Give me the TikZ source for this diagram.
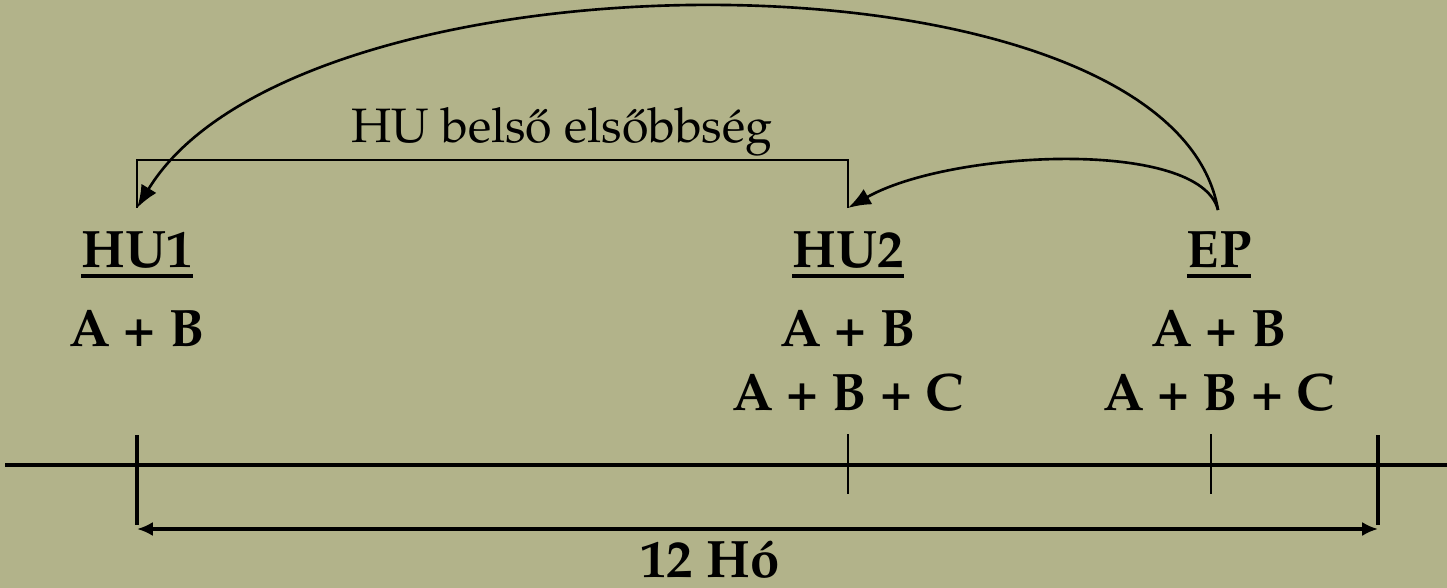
\documentclass[tikz,border=0pt]{standalone}
\usepackage[T1]{fontenc}
\renewcommand{\rmdefault}{ppl}
\usetikzlibrary{arrows.meta}
\definecolor{olivebg}{RGB}{178,179,138}
% underline with a thick rule
\newcommand{\hdline}[1]{\setbox0\hbox{#1}\rlap{\vrule width\wd0 height -3.8pt depth 6pt}\box0}
\tikzset{
  lbl/.style={font=\fontsize{30}{34}\selectfont\bfseries, anchor=base, inner sep=0pt},
  txt/.style={font=\fontsize{27.5}{32}\selectfont, anchor=base, inner sep=0pt},
  conn/.style={line width=1.5pt, -{Latex[length=13pt,width=10pt]}},
}
\begin{document}
\begin{tikzpicture}[x=0.02cm,y=-0.02cm]
        \fill[olivebg] (0,0) rectangle (1447,588);
        \useasboundingbox (0,0) rectangle (1447,588);
        % labels
        \node[lbl] at (137,267) (hu1) {\hdline{HU1}};
        \node[lbl] at (848,267) (hu2) {\hdline{HU2}};
        \node[lbl] at (1219,267) (ep) {\hdline{EP}};
        \node[lbl] at (137,346) (hu1a) {A + B};
        \node[lbl] at (848,346) (hu2a) {A + B};
        \node[lbl] at (848,410) (hu2b) {A + B + C};
        \node[lbl] at (1219,346) (epa) {A + B};
        \node[lbl] at (1219,410) (epb) {A + B + C};
        \node[txt] at (562,142) (prio) {HU bels\H{o} els\H{o}bbs\'eg};
        \node[lbl] at (710,577) (ho) {12 H\'o};
        % connector ends
        \coordinate (hu1top) at (137,208);
        \coordinate (hu2top) at (848,208);
        \coordinate (eptop) at (1218,210);
        \draw[line width=1.5pt] (hu2top) -- (848,160) -- (137,160) -- (hu1top);
        \draw[conn] (eptop) .. controls (1200,138) and (950,150) .. (hu2top);
        \draw[conn] (eptop) .. controls (1172,-60) and (300,-60) .. (hu1top);
        % time line
        \draw[line width=2pt] (5,465) -- (1447,465);
        \draw[line width=2.4pt] (137,435) -- (137,525);
        \draw[line width=2.4pt] (1378,435) -- (1378,525);
        \draw[line width=1.2pt] (848,434) -- (848,494);
        \draw[line width=1.2pt] (1211,434) -- (1211,494);
        \draw[line width=2pt, {Latex[length=9pt,width=8pt]}-{Latex[length=9pt,width=8pt]}] (137,529) -- (1378,529);
    \end{tikzpicture}
\end{document}
